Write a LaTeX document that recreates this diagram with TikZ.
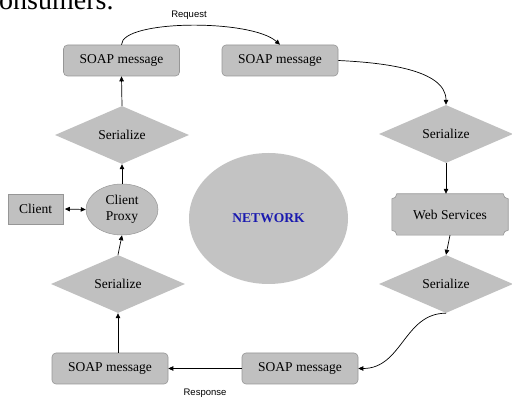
\documentclass[tikz,border=0pt]{standalone}
\usepackage{fontspec}
\setmainfont{Liberation Serif}
\newfontfamily\labelfont{Liberation Sans}
\usetikzlibrary{arrows.meta,shapes.geometric,backgrounds}
\definecolor{shapegray}{RGB}{192,192,192}
\definecolor{netgray}{RGB}{195,195,195}
\definecolor{edgegray}{RGB}{150,150,150}
\definecolor{netblue}{RGB}{25,25,175}
\begin{document}
\begin{tikzpicture}[x=1pt,y=-1pt,
  every node/.style={font=\fontsize{13.5}{16}\selectfont},
  soapbox/.style={rectangle, rounded corners=4pt, fill=shapegray, draw=edgegray, line width=0.6pt,
    minimum width=116pt, minimum height=31pt, inner sep=0pt},
  serbox/.style={diamond, fill=shapegray, minimum width=134pt, minimum height=58pt,
    inner sep=0pt, aspect=2.3},
  conn/.style={-{Triangle[length=5pt,width=4.5pt]}, line width=0.7pt},
  biconn/.style={{Triangle[length=5pt,width=4.5pt]}-{Triangle[length=5pt,width=4.5pt]}, line width=0.7pt},
  lbl/.style={font=\labelfont\fontsize{9.5}{11}\selectfont, inner sep=0pt}]
\useasboundingbox (0,0) rectangle (512,398);
\clip (0,0) rectangle (512,398);

% cut-off text at the top
\node[anchor=base west, font=\fontsize{28}{30}\selectfont, inner sep=0pt] (toptext) at (-1,10) {onsumers.};

% nodes
\node[soapbox] (soapTL) at (121.5,60.5) {SOAP message};
\node[soapbox] (soapTR) at (280,60.5) {SOAP message};
\node[soapbox] (soapBR) at (300,368.5) {SOAP message};
\node[soapbox] (soapBL) at (110,368.5) {SOAP message};

\node[serbox] (serL1) at (122,135) {Serialize};
\node[serbox] (serR)  at (446,134) {Serialize};
\node[serbox] (serR2) at (446,284) {Serialize};
\node[serbox] (serL2) at (118,284) {Serialize};

\node[rectangle, fill=shapegray, draw=edgegray, line width=0.6pt, minimum width=55pt,
  minimum height=30pt, inner sep=0pt] (cl) at (35.5,209) {Client};
\node[ellipse, fill=shapegray, draw=edgegray, line width=0.5pt, minimum width=72pt,
  minimum height=51pt, inner sep=0pt, align=center] (cp) at (122,209.5) {Client\\Proxy};

\node[ellipse, fill=netgray, minimum width=159pt, minimum height=131pt, inner sep=0pt,
  text=netblue, font=\bfseries\fontsize{13.5}{16}\selectfont] (net) at (268.5,218.5) {NETWORK};

\node[rectangle, minimum width=116pt, minimum height=41pt, inner sep=0pt] (ws) at (450,214.5) {Web Services};
\begin{scope}[on background layer]
\filldraw[fill=shapegray, draw=edgegray, line width=0.6pt]
 ([xshift=5pt]ws.north west) -- ([xshift=-5pt]ws.north east)
 .. controls ([xshift=-5pt,yshift=-2.76pt]ws.north east) and ([xshift=-2.76pt,yshift=-5pt]ws.north east) .. ([yshift=-5pt]ws.north east)
 -- ([yshift=5pt]ws.south east)
 .. controls ([xshift=-2.76pt,yshift=5pt]ws.south east) and ([xshift=-5pt,yshift=2.76pt]ws.south east) .. ([xshift=-5pt]ws.south east)
 -- ([xshift=5pt]ws.south west)
 .. controls ([xshift=5pt,yshift=2.76pt]ws.south west) and ([xshift=2.76pt,yshift=5pt]ws.south west) .. ([yshift=5pt]ws.south west)
 -- ([yshift=-5pt]ws.north west)
 .. controls ([xshift=2.76pt,yshift=-5pt]ws.north west) and ([xshift=5pt,yshift=-2.76pt]ws.north west) .. cycle;
\end{scope}

% labels
\node[lbl] (req) at (189,15) {Request};
\node[lbl] (resp) at (205,393) {Response};

% connectors
\draw[conn] (soapTL.north) .. controls +(0,-25) and +(-29,-26) .. (soapTR.north);
\draw[conn] (soapTR.east) .. controls +(42,2) and +(0,-36) .. (serR.north);
\draw[conn] (serR.south) -- (serR.south |- ws.north);
\draw[conn] (ws.south) -- (serR2.north);
\draw[conn] (serR2.south) .. controls +(-42,0) and +(44,0) .. (soapBR.east);
\draw[conn] (soapBR.west) -- (soapBL.east);
\draw[conn] (serL2.south |- soapBL.north) -- (serL2.south);
\draw[conn] (serL2.north) -- (cp.south);
\draw[biconn, shorten <=1.5pt] (cl.east) -- (cp.west);
\draw[conn] (cp.north) -- (serL1.south);
\draw[conn] (serL1.north) -- (soapTL.south);
\end{tikzpicture}
\end{document}
